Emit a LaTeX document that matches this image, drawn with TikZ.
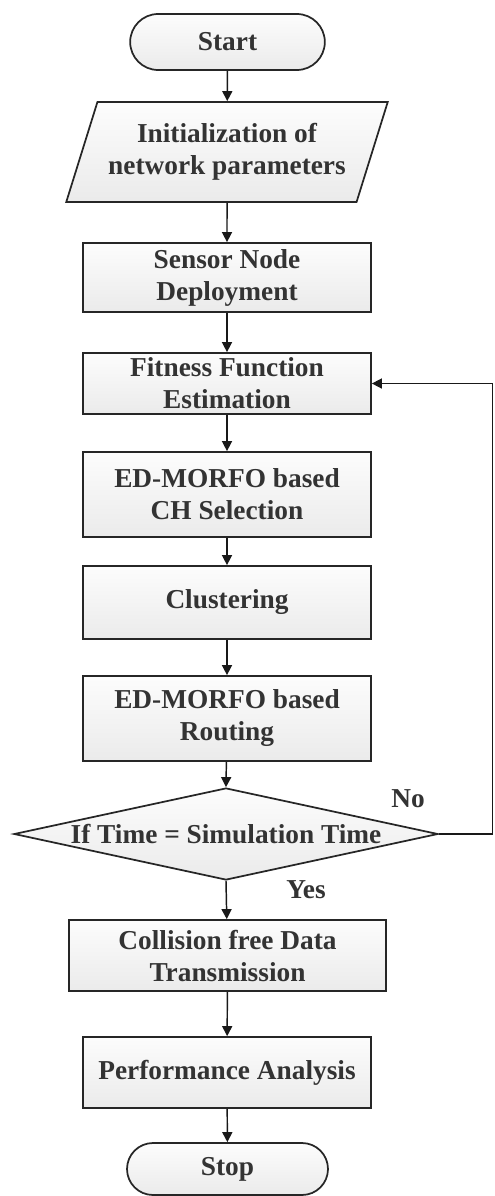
\documentclass[tikz,border=0pt]{standalone}
\usepackage{fontspec}
\setmainfont{Liberation Serif}
\usepackage{tikz}
\usetikzlibrary{arrows.meta,positioning,shapes.geometric,shapes.misc}

\begin{document}
\begin{tikzpicture}[
  x=0.75pt,y=-0.75pt,
  base/.style={draw=black!85,line width=1.3pt,top color=gray!2,bottom color=gray!16,
    text=black!80,font=\bfseries\fontsize{20.5}{24}\selectfont,align=center,inner sep=0pt},
  term/.style={base,rounded rectangle,minimum width=146pt,minimum height=42pt},
  io/.style={base,trapezium,trapezium left angle=63.4,trapezium right angle=116.6,
    trapezium stretches=true,minimum width=241.5pt,minimum height=75pt},
  proc/.style={base,rectangle,minimum width=216pt},
  dec/.style={base,diamond,aspect=4.6,minimum width=318pt,minimum height=69pt},
  lbl/.style={text=black!80,font=\bfseries\fontsize{20.5}{24}\selectfont},
  arrow/.style={-{Triangle[length=7.5pt,width=7.5pt]},line width=1.1pt,draw=black!90}
]
\useasboundingbox (0,0) rectangle (494,1196);
\node[term] (start) at (227.5,42) {Start};
\node[io] (init) at (227,152) {Initialization of\\network parameters};
\node[proc,minimum height=51.75pt] (deploy) at (227,277.5) {Sensor Node\\Deployment};
\node[proc,minimum height=45.75pt] (fit) at (227,383.5) {Fitness Function\\Estimation};
\node[proc,minimum height=63.75pt] (chsel) at (227,494.5) {ED-MORFO based\\CH Selection};
\node[proc,minimum height=54.75pt] (clust) at (227,602.5) {Clustering};
\node[proc,minimum height=63.75pt] (route) at (227,718.5) {ED-MORFO based\\Routing};
\node[dec] (check) at (226,834) {If Time = Simulation Time};
\node[proc,minimum width=237.75pt,minimum height=53.25pt] (send) at (227.5,955.5) {Collision free Data\\Transmission};
\node[proc,minimum height=53.25pt] (perf) at (227,1072.5) {Performance Analysis};
\node[term,minimum width=150.75pt,minimum height=39pt] (stop) at (227.5,1169) {Stop};
\node[lbl] (no) at (408,799) {No};
\node[lbl] (yes) at (306,890) {Yes};
\coordinate (back) at (492.5,383.5);
\draw[arrow] (start) -- (init);
\draw[arrow] (init) -- (deploy);
\draw[arrow] (deploy) -- (fit);
\draw[arrow] (fit) -- (chsel);
\draw[arrow] (chsel) -- (clust);
\draw[arrow] (clust) -- (route);
\draw[arrow] (route) -- (check.north);
\draw[arrow] (check.south) -- (send);
\draw[arrow] (send) -- (perf);
\draw[arrow] (perf) -- (stop);
\draw[arrow] (check.east) -| (back) -- (fit.east);
\end{tikzpicture}
\end{document}
